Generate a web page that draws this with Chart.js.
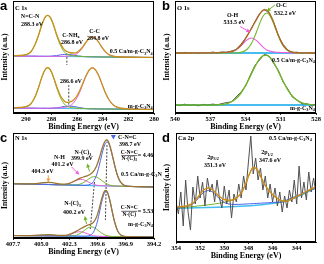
<!DOCTYPE html>
<html>
<head>
<meta charset="utf-8">
<script src="https://cdn.jsdelivr.net/npm/chart.js@4.4.0/dist/chart.umd.min.js"></script>
<style>
  html, body { margin: 0; padding: 0; background: #fff; }
  #wrap { position: relative; width: 324px; height: 264px; }
  .p { position: absolute; width: 162px; height: 132px; }
</style>
</head>
<body>
<div id="wrap">
  <div class="p" style="left:0;top:0"><canvas id="pa"></canvas></div>
  <div class="p" style="left:162px;top:0"><canvas id="pb"></canvas></div>
  <div class="p" style="left:0;top:132px"><canvas id="pc"></canvas></div>
  <div class="p" style="left:162px;top:132px"><canvas id="pd"></canvas></div>
</div>
<script>
// ---- (a) C 1s ----
const aTicks = [290, 288, 286, 284, 282, 280];
const aEnergy = [291, 290.5, 290, 289.6, 289.3, 289.0, 288.8, 288.6, 288.45, 288.3, 288.15, 288.0, 287.8, 287.6, 287.3, 287.0, 286.8, 286.6, 286.3, 286.0, 285.8, 285.6, 285.35, 285.1, 284.95, 284.8, 284.65, 284.5, 284.3, 284.0, 283.8, 283.5, 283.1, 282.6, 282.0, 281.0, 280.0];
const aUpEnv = [57.3, 57.5, 58.3, 61.3, 67.9, 78.0, 86.2, 93.2, 96.5, 97.7, 96.6, 93.4, 86.8, 78.8, 69.4, 63.4, 61.5, 60.5, 60.0, 60.7, 62.7, 65.5, 70.0, 74.0, 75.6, 76.2, 75.5, 73.9, 70.5, 64.6, 61.4, 58.2, 56.6, 56.2, 55.9, 55.6, 55.5];
const aUpNCN = [57.3, 57.5, 58.3, 61.3, 67.9, 78.0, 86.2, 93.2, 96.5, 97.6, 96.4, 93.1, 86.1, 77.8, 67.6, 61.0, 58.9, 57.8, 57.2, 56.8, 56.7, 56.6, 56.4, 56.3, 56.2, 56.2, 56.1, 56.1, 56.1, 56.0, 56.0, 56.0, 55.9, 55.9, 55.8, 55.6, 55.5];
const aUpCNH = [57.0, 56.9, 56.9, 56.8, 56.8, 56.7, 56.7, 56.7, 56.7, 56.7, 56.8, 56.9, 57.2, 57.4, 58.1, 58.6, 58.6, 58.5, 58.0, 57.2, 56.9, 56.6, 56.35, 56.2, 56.2, 56.2, 56.1, 56.1, 56.1, 56.0, 56.0, 56.0, 55.9, 55.9, 55.8, 55.6, 55.5];
const aUpCC = [57.0, 56.9, 56.9, 56.8, 56.8, 56.7, 56.7, 56.7, 56.7, 56.6, 56.6, 56.6, 56.7, 56.6, 56.7, 56.8, 56.8, 57.0, 57.6, 59.3, 61.7, 64.9, 69.6, 74.0, 75.6, 76.2, 75.5, 73.9, 70.5, 64.6, 61.4, 58.2, 56.6, 56.2, 55.9, 55.6, 55.5];
const aLoEnv = [5.3, 5.5, 6.3, 9.3, 15.7, 25.8, 33.9, 40.8, 44.2, 45.3, 44.2, 41.1, 34.5, 26.7, 17.3, 12.0, 10.6, 10.8, 12.7, 17.5, 22.2, 28.3, 35.9, 42.1, 44.4, 45.2, 44.3, 41.8, 36.9, 27.0, 20.4, 13.0, 7.2, 4.9, 4.2, 3.7, 3.5];
const aLoNCN = [5.3, 5.5, 6.3, 9.3, 15.7, 25.8, 33.9, 40.7, 44.0, 45.1, 43.9, 40.6, 33.8, 25.6, 15.4, 9.0, 6.8, 5.8, 5.2, 4.8, 4.7, 4.6, 4.4, 4.2, 4.2, 4.2, 4.1, 4.1, 4.1, 4.0, 4.0, 4.0, 3.9, 3.9, 3.8, 3.6, 3.5];
const aLoCNH = [5.0, 4.9, 4.9, 4.8, 4.8, 4.7, 4.7, 4.7, 4.7, 4.6, 4.6, 4.8, 5.0, 5.2, 5.8, 6.5, 6.8, 6.9, 6.6, 5.9, 5.4, 5.0, 4.5, 4.35, 4.2, 4.2, 4.1, 4.1, 4.1, 4.0, 4.0, 4.0, 3.9, 3.9, 3.8, 3.6, 3.5];
const aLoCC = [5.0, 4.9, 4.9, 4.8, 4.8, 4.7, 4.7, 4.8, 4.9, 4.8, 4.9, 4.9, 4.9, 4.9, 5.1, 5.5, 5.8, 6.9, 9.7, 15.4, 20.7, 27.3, 35.4, 41.9, 44.4, 45.2, 44.3, 41.8, 36.9, 27.0, 20.4, 13.0, 7.2, 4.9, 4.2, 3.7, 3.5];
const aBaseX = [291, 280];
const aUpBase = [57.0, 55.5];
const aLoBase = [5.0, 3.5];
const aDashUpX = [286.8, 286.8], aDashUpY = [59.5, 48];
const aDashLoX = [286.65, 286.65], aDashLoY = [28, 7];

// ---- (b) O 1s ----
const bTicks = [540, 537, 534, 531, 528];
const bEnergy = [540, 539, 538, 537, 536, 535.5, 535, 534.6, 534.3, 534.0, 533.75, 533.5, 533.25, 533.0, 532.75, 532.5, 532.2, 532.0, 531.75, 531.5, 531.25, 531.0, 530.7, 530.4, 530.0, 529.5, 529, 528.5, 528];
const bUpEnv = [60, 60, 60.1, 60.2, 60.5, 60.9, 62.1, 65.2, 69.0, 74.3, 79.2, 84.4, 89.7, 94.9, 99.7, 102.8, 103.0, 100.7, 95.0, 87.2, 79.2, 72.1, 66.2, 62.75, 60.75, 60.2, 60.1, 60, 60];
const bUpOC = [60, 60, 60, 60, 60, 60, 60, 60.3, 60.9, 62.5, 65.1, 69.4, 75.6, 83.1, 90.9, 97.0, 100, 98.6, 93.6, 86.3, 78.5, 71.6, 65.8, 62.5, 60.6, 60.1, 60, 60, 60];
const bUpOH = [60, 60, 60.1, 60.2, 60.5, 60.9, 62.1, 64.9, 68.1, 71.8, 74.1, 75.0, 74.1, 71.8, 68.8, 65.8, 63.0, 62.1, 61.4, 60.9, 60.7, 60.5, 60.4, 60.25, 60.15, 60.1, 60.1, 60, 60];
const bLoEnv = [8, 8, 8, 8.0, 8.5, 9.7, 12.5, 16.7, 21.4, 27.3, 33.0, 39.1, 45.1, 50.5, 54.8, 57.4, 57.8, 56.5, 53.3, 48.5, 42.8, 36.7, 29.5, 23.2, 16.7, 11.8, 9.4, 8.4, 8.1];
const bRawX = [540, 539.6, 539.2, 538.8, 538.4, 538, 537.6, 537.2, 536.8, 536.4, 536, 535.6, 535.2, 534.8, 534.4, 534, 533.6, 533.2, 532.8, 532.4, 532, 531.6, 531.2, 530.8, 530.4, 530, 529.6, 529.2, 528.8, 528.4, 528];
const bUpRaw = [60.4, 59.5, 60.6, 59.8, 60.3, 59.4, 60.5, 60.0, 60.9, 60.2, 61.0, 60.6, 61.9, 63.4, 68.5, 74.8, 82.5, 91.2, 99.5, 103.6, 100.0, 90.6, 77.0, 68.6, 63.0, 60.3, 60.8, 59.7, 60.4, 59.8, 60.3];
const bLoRaw = [8.5, 7.4, 8.8, 7.6, 8.3, 7.2, 8.6, 7.9, 8.9, 8.2, 9.4, 10.5, 11.0, 16.0, 20.7, 27.0, 37.5, 47.5, 53.0, 58.6, 57.0, 49.5, 42.6, 31.0, 24.0, 15.8, 12.8, 9.2, 9.3, 7.9, 8.6];
const bBaseX = [540, 528];
const bUpBase = [60, 60];
const bLoBase = [8, 8];

// ---- (c) N 1s ----
const cTicks = [407.7, 405.0, 402.3, 399.6, 396.9, 394.2];
const cEnergy = [407.7, 407, 406, 405.2, 404.8, 404.3, 403.8, 403.3, 402.8, 402.4, 402.0, 401.6, 401.2, 400.9, 400.6, 400.3, 400.0, 399.7, 399.45, 399.2, 399.0, 398.85, 398.7, 398.55, 398.4, 398.2, 398.0, 397.7, 397.4, 397.0, 396.5, 396, 395, 394.2];
const cUpEnv = [54.3, 54.1, 54.1, 54.8, 55.4, 55.7, 55.1, 54.2, 53.8, 54.4, 56.0, 58.2, 60.1, 61.2, 62.2, 63.8, 66.6, 72.1, 79.5, 88.5, 94.6, 97.4, 98.0, 96.0, 91.5, 83.3, 74.1, 62.7, 55.8, 52.4, 51.65, 51.4, 51.2, 51.0];
const cUpCNC = [54.3, 54.1, 53.9, 53.7, 53.6, 53.5, 53.3, 53.2, 53.1, 53.0, 52.9, 52.8, 52.7, 52.6, 52.9, 53.7, 56.4, 63.0, 72.1, 83.1, 90.9, 94.7, 96.1, 94.7, 90.7, 82.9, 73.9, 62.6, 55.8, 52.4, 51.65, 51.4, 51.2, 51.0];
const cUpNC3 = [54.3, 54.1, 53.9, 53.7, 53.6, 53.5, 53.3, 53.2, 53.1, 53.0, 53.0, 53.2, 54.1, 55.7, 57.9, 60.1, 61.3, 60.9, 59.5, 57.5, 55.9, 54.8, 54.0, 53.4, 52.8, 52.4, 52.1, 51.95, 51.8, 51.7, 51.6, 51.4, 51.2, 51.0];
const cUpNH = [54.3, 54.1, 53.9, 53.7, 53.6, 53.5, 53.3, 53.2, 53.5, 54.3, 55.9, 57.8, 58.7, 58.1, 56.6, 55.0, 53.7, 52.8, 52.5, 52.3, 52.2, 52.1, 52.1, 52.1, 52.0, 52.0, 51.9, 51.9, 51.8, 51.7, 51.6, 51.4, 51.2, 51.0];
const cLoEnv = [2.5, 2.4, 2.4, 2.8, 3.2, 3.3, 3.1, 2.6, 2.6, 3.15, 4.8, 7.0, 9.45, 11.15, 12.55, 13.7, 15.6, 21.0, 29.4, 39.5, 45.6, 47.6, 46.6, 42.6, 36.5, 26.5, 17.25, 7.6, 3.2, 1.5, 1.3, 1.2, 1.1, 1.0];
const cLoCNC = [2.5, 2.4, 2.3, 2.2, 2.2, 2.1, 2.1, 2.0, 2.0, 1.9, 1.9, 1.8, 1.8, 1.75, 1.9, 2.8, 5.8, 13.5, 24.1, 36.3, 43.6, 46.3, 45.8, 42.1, 36.2, 26.4, 17.2, 7.6, 3.2, 1.5, 1.3, 1.2, 1.1, 1.0];
const cLoNC3 = [2.5, 2.4, 2.3, 2.2, 2.2, 2.1, 2.1, 2.0, 2.0, 1.95, 2.2, 2.9, 5.0, 7.3, 9.7, 11.1, 10.7, 8.85, 6.8, 4.8, 3.5, 2.8, 2.3, 2.0, 1.8, 1.5, 1.45, 1.4, 1.4, 1.3, 1.3, 1.2, 1.1, 1.0];
const cLoNH = [2.5, 2.4, 2.3, 2.2, 2.2, 2.1, 2.1, 2.06, 2.4, 3.1, 4.55, 5.9, 6.25, 5.5, 4.35, 3.2, 2.3, 1.9, 1.7, 1.6, 1.5, 1.5, 1.5, 1.5, 1.5, 1.4, 1.4, 1.4, 1.4, 1.3, 1.3, 1.2, 1.1, 1.0];
const cBaseX = [407.7, 394.2];
const cUpBase = [54.3, 51.0];
const cLoBase = [2.5, 1.0];
const cDash1X = [399.9, 400.3], cDash1Y = [56, 9];
const cDash2X = [398.7, 398.85], cDash2Y = [93, 18];

// ---- (d) Ca 2p ----
const dTicks = [354, 352, 350, 348, 346, 344];
const dEnergy = [354, 353.5, 353, 352.5, 352.2, 351.9, 351.6, 351.3, 351.0, 350.7, 350.4, 350.0, 349.6, 349.2, 348.8, 348.5, 348.2, 347.9, 347.6, 347.3, 347.0, 346.7, 346.4, 346.0, 345.6, 345.2, 344.8, 344.4, 344.0, 343.6, 343.2, 342.8, 342.4];
const dEnv = [35, 35.5, 36.5, 40, 44.5, 49.5, 53, 54, 52.5, 49, 45.5, 42.5, 41.8, 42.5, 46, 51, 59, 68.5, 74.5, 73, 66, 58.5, 53, 47.5, 43.5, 41, 41, 43, 45.5, 48, 50.5, 53, 55];
const d2p1 = [34.5, 35.0, 36.0, 39.2, 43.0, 47.5, 50.5, 51.5, 50.3, 47.0, 43.2, 39.5, 38.0, 37.6, 37.6, 37.8, 38.0, 38.2, 38.4, 38.6, 38.8, 39.0, 39.2, 39.5, 39.8, 40.1, 42.1, 44.1, 46.1, 48.1, 50.1, 52.1, 54.1];
const d2p2 = [34.0, 34.5, 35.0, 35.5, 36.0, 36.4, 36.8, 37.2, 37.7, 38.2, 38.8, 39.8, 41.0, 42.3, 45.8, 50.8, 58.8, 68.3, 74.3, 72.8, 65.8, 58.3, 52.8, 47.3, 43.3, 40.9, 40.9, 42.9, 45.4, 47.9, 50.4, 52.9, 54.9];
const dBaseX = [354, 345.2, 342.4];
const dBase = [33.5, 40, 54];
const dRawX = [354.0, 353.8, 353.6, 353.4, 353.2, 353.0, 352.8, 352.6, 352.4, 352.2, 352.0, 351.8, 351.6, 351.4, 351.2, 351.0, 350.8, 350.6, 350.4, 350.2, 350.0, 349.8, 349.6, 349.4, 349.2, 349.0, 348.8, 348.6, 348.4, 348.2, 348.0, 347.8, 347.6, 347.4, 347.2, 347.0, 346.8, 346.6, 346.4, 346.2, 346.0, 345.8, 345.6, 345.4, 345.2, 345.0, 344.8, 344.6, 344.4, 344.2, 344.0, 343.8, 343.6, 343.4, 343.2, 343.0, 342.8, 342.6, 342.4];
const dRaw = [40, 28, 50, 16, 62, 30, 12, 55, 38, 66, 44, 60, 36, 64, 50, 58, 40, 62, 44, 34, 56, 38, 52, 24, 48, 40, 58, 44, 66, 52, 80, 106, 68, 84, 62, 74, 52, 66, 44, 58, 40, 54, 36, 50, 30, 46, 34, 52, 40, 62, 38, 76, 44, 60, 42, 70, 50, 64, 48];

// ---- drawing ----
const SERIF = '"Liberation Serif", "Times New Roman", serif';
const GOLD = '#c8921c', GREEN = '#72b52a', PINK = '#ee5ee0', BLUE = '#4b64ea', SKY = '#46bdf0';

function pts(xs, ys) {
  return xs.map((x, i) => ({ x: x, y: ys[i] }));
}

function curve(xs, ys, color, width, extra) {
  return Object.assign({
    data: pts(xs, ys), borderColor: color, borderWidth: width,
    pointRadius: 0, fill: false, cubicInterpolationMode: 'monotone'
  }, extra || {});
}

function dashed(xs, ys) {
  return curve(xs, ys, '#111', 0.8, { borderDash: [2, 1.5] });
}

// split "m-g-C_3N_4" or "2p_{3/2}" into normal / subscript runs
function runs(s) {
  const out = [];
  let buf = '', i = 0;
  while (i < s.length) {
    if (s[i] === '_') {
      if (buf) { out.push([buf, 0]); buf = ''; }
      if (s[i + 1] === '{') {
        const j = s.indexOf('}', i);
        out.push([s.slice(i + 2, j), 1]);
        i = j + 1;
      } else {
        out.push([s[i + 1], 1]);
        i += 2;
      }
    } else {
      buf += s[i++];
    }
  }
  if (buf) out.push([buf, 0]);
  return out;
}

function rich(ctx, s, x, y, size, align, color) {
  const parts = runs(s);
  const f0 = 'bold ' + size + 'px ' + SERIF;
  const f1 = 'bold ' + (size * 0.7) + 'px ' + SERIF;
  let w = 0;
  parts.forEach(p => { ctx.font = p[1] ? f1 : f0; w += ctx.measureText(p[0]).width; });
  let cx = align === 'left' ? x : align === 'right' ? x - w : x - w / 2;
  ctx.fillStyle = color || '#000';
  ctx.textAlign = 'left';
  ctx.textBaseline = 'middle';
  parts.forEach(p => {
    ctx.font = p[1] ? f1 : f0;
    ctx.fillText(p[0], cx, y + (p[1] ? size * 0.3 : 0));
    cx += ctx.measureText(p[0]).width;
  });
  return w;
}

function notesPlugin(cfg) {
  return {
    id: 'notes',
    afterDatasetsDraw(chart) {
      const ctx = chart.ctx, a = chart.chartArea;
      const sx = chart.scales.x, sy = chart.scales.y;
      const X = v => sx.getPixelForValue(v), Y = v => sy.getPixelForValue(v);
      ctx.save();
      // frame
      ctx.strokeStyle = '#000';
      ctx.lineWidth = 1;
      ctx.strokeRect(a.left + 0.5, a.top + 0.5, a.right - a.left - 1, a.bottom - a.top - 1);
      // panel letter + heading
      ctx.fillStyle = '#000';
      ctx.font = 'bold 13px "Liberation Sans", Arial, sans-serif';
      ctx.textAlign = 'left';
      ctx.textBaseline = 'alphabetic';
      ctx.fillText(cfg.letter, 0, 10);
      rich(ctx, cfg.heading, a.left + 2, cfg.headY, 6.5, 'left');
      // arrows
      (cfg.arrows || []).forEach(ar => {
        const x1 = X(ar.x1), y1 = Y(ar.y1), x2 = X(ar.x2), y2 = Y(ar.y2);
        const ang = Math.atan2(y2 - y1, x2 - x1);
        ctx.strokeStyle = ar.c; ctx.fillStyle = ar.c; ctx.lineWidth = 1;
        ctx.beginPath(); ctx.moveTo(x1, y1); ctx.lineTo(x2, y2); ctx.stroke();
        ctx.beginPath();
        ctx.moveTo(x2 + 1.5 * Math.cos(ang), y2 + 1.5 * Math.sin(ang));
        ctx.lineTo(x2 - 2.5 * Math.cos(ang) + 2 * Math.sin(ang), y2 - 2.5 * Math.sin(ang) - 2 * Math.cos(ang));
        ctx.lineTo(x2 - 2.5 * Math.cos(ang) - 2 * Math.sin(ang), y2 - 2.5 * Math.sin(ang) + 2 * Math.cos(ang));
        ctx.closePath(); ctx.fill();
      });
      (cfg.marks || []).forEach(m => {
        const x = X(m.x), y = Y(m.y);
        ctx.fillStyle = m.c;
        ctx.beginPath(); ctx.moveTo(x - 2.5, y - 2); ctx.lineTo(x + 2.5, y - 2); ctx.lineTo(x, y + 2.5);
        ctx.closePath(); ctx.fill();
      });
      // labels
      (cfg.texts || []).forEach(t => rich(ctx, t.t, X(t.x), Y(t.y), 6, t.align || 'center', t.c));
      // ratio fractions
      (cfg.fracs || []).forEach(f => {
        const cx = X(f.x), cy = Y(f.y);
        rich(ctx, f.num, cx, cy - 3, 5.5, 'center');
        rich(ctx, f.den, cx, cy + 3.2, 5.5, 'center');
        ctx.strokeStyle = '#000'; ctx.lineWidth = 0.6;
        ctx.beginPath(); ctx.moveTo(cx - 8, cy + 0.3); ctx.lineTo(cx + 8, cy + 0.3); ctx.stroke();
      });
      ctx.restore();
    }
  };
}

function panel(id, cfg) {
  const tickFont = { family: SERIF, size: 6.5, weight: 'bold' };
  return new Chart(document.getElementById(id), {
    type: 'line',
    data: { datasets: cfg.datasets },
    options: {
      animation: false,
      responsive: true,
      maintainAspectRatio: false,
      layout: { padding: { left: 0, right: 8, top: 1, bottom: cfg.padBottom } },
      plugins: { legend: { display: false }, tooltip: { enabled: false } },
      scales: {
        x: {
          type: 'linear', reverse: true, min: cfg.xMin, max: cfg.xMax,
          afterBuildTicks: s => { s.ticks = cfg.ticks.map(v => ({ value: v })); },
          afterFit: s => { s.height = 19; },
          ticks: { font: tickFont, color: '#000', padding: 0, maxRotation: 0, autoSkip: false,
                   callback: cfg.tickFmt || (v => String(v)) },
          grid: { drawOnChartArea: false, color: '#000', tickLength: 2, lineWidth: 0.8 },
          border: { color: '#000', width: 1 },
          title: { display: true, text: 'Binding Energy (eV)', color: '#000', padding: 0,
                   font: { family: SERIF, size: 8, weight: 'bold' } }
        },
        y: {
          min: 0, max: cfg.yMax,
          ticks: { display: false }, grid: { display: false }, border: { display: false },
          afterFit: s => { s.width = cfg.left; },
          title: { display: true, text: 'Intensity (a.u.)', color: '#000', padding: { top: 1, bottom: 0 },
                   font: { family: SERIF, size: 7.5, weight: 'bold' } }
        }
      }
    },
    plugins: [notesPlugin(cfg)]
  });
}

panel('pa', {
  xMin: 280, xMax: 291, yMax: 112, left: 13, padBottom: 0, ticks: aTicks,
  letter: 'a', heading: 'C 1s', headY: 8.5,
  datasets: [
    curve(aEnergy, aUpEnv, GOLD, 1.3),
    curve(aEnergy, aUpNCN, GREEN, 1),
    curve(aEnergy, aUpCC, PINK, 1),
    curve(aEnergy, aUpCNH, BLUE, 1),
    curve(aBaseX, aUpBase, SKY, 1.2),
    curve(aEnergy, aLoEnv, GOLD, 1.3),
    curve(aEnergy, aLoNCN, GREEN, 1),
    curve(aEnergy, aLoCC, PINK, 1),
    curve(aEnergy, aLoCNH, BLUE, 1),
    curve(aBaseX, aLoBase, SKY, 1.2),
    dashed(aDashUpX, aDashUpY),
    dashed(aDashLoX, aDashLoY)
  ],
  texts: [
    { t: 'N=C-N', x: 289.67, y: 96.3 }, { t: '288.3 eV', x: 289.52, y: 88.7 },
    { t: 'C-NH_x', x: 286.48, y: 78 }, { t: '286.8 eV', x: 286.4, y: 70.3 },
    { t: 'C-C', x: 284.64, y: 81.3 }, { t: '284.8 eV', x: 284.37, y: 74.7 },
    { t: '0.5 Ca/m-g-C_3N_4', x: 280.1, y: 61.3, align: 'right' },
    { t: 'm-g-C_3N_4', x: 280.1, y: 7, align: 'right' },
    { t: '286.6 eV', x: 286.48, y: 31.3 }
  ]
});

panel('pb', {
  xMin: 528, xMax: 540, yMax: 112, left: 13, padBottom: 0, ticks: bTicks,
  letter: 'b', heading: 'O 1s', headY: 8.5,
  datasets: [
    curve(bEnergy, bUpEnv, '#b06a22', 1.3),
    curve(bEnergy, bUpOC, GREEN, 1.1),
    curve(bEnergy, bUpOH, PINK, 1.1),
    curve(bRawX, bUpRaw, '#222', 0.8, { cubicInterpolationMode: 'default', tension: 0 }),
    curve(bBaseX, bUpBase, SKY, 1.8),
    curve(bEnergy, bLoEnv, GREEN, 1.4),
    curve(bRawX, bLoRaw, '#222', 0.8, { cubicInterpolationMode: 'default', tension: 0 }),
    curve(bBaseX, bLoBase, SKY, 1.8)
  ],
  texts: [
    { t: 'O-H', x: 535.1, y: 97.3 }, { t: '533.5 eV', x: 534.94, y: 90.3 },
    { t: 'O-C', x: 530.94, y: 107.3 }, { t: '532.2 eV', x: 530.64, y: 99.7 },
    { t: '0.5 Ca/m-g-C_3N_4', x: 528.1, y: 53, align: 'right' },
    { t: 'm-g-C_3N_4', x: 528.1, y: 4.7, align: 'right' }
  ],
  arrows: [
    { x1: 534.47, y1: 86.5, x2: 533.7, y2: 81.5, c: PINK },
    { x1: 531.5, y1: 108, x2: 532.1, y2: 102.5, c: GREEN }
  ]
});

panel('pc', {
  xMin: 394.2, xMax: 407.7, yMax: 105, left: 13, padBottom: 7, ticks: cTicks,
  tickFmt: v => v.toFixed(1),
  letter: 'c', heading: 'N 1s', headY: 6.5,
  datasets: [
    curve(cEnergy, cUpEnv, '#9c7630', 1.3),
    curve(cEnergy, cUpCNC, BLUE, 1),
    curve(cEnergy, cUpNC3, GREEN, 1),
    curve(cEnergy, cUpNH, PINK, 1),
    curve(cBaseX, cUpBase, SKY, 1.2),
    curve(cEnergy, cLoEnv, '#9c7630', 1.3),
    curve(cEnergy, cLoCNC, BLUE, 1),
    curve(cEnergy, cLoNC3, GREEN, 1),
    curve(cEnergy, cLoNH, PINK, 1),
    curve(cBaseX, cLoBase, SKY, 1.2),
    dashed(cDash1X, cDash1Y),
    dashed(cDash2X, cDash2Y)
  ],
  texts: [
    { t: 'C-N=C', x: 397.64, y: 101, align: 'left' }, { t: '398.7 eV', x: 397.55, y: 93.3, align: 'left' },
    { t: 'N-(C)_3', x: 401.0, y: 85.3 }, { t: '399.9 eV', x: 401.1, y: 79.3 },
    { t: 'N-H', x: 403.25, y: 81 }, { t: '401.2 eV', x: 402.96, y: 73.3 },
    { t: '404.3 eV', x: 404.87, y: 66.7 },
    { t: '0.5 Ca/m-g-C_3N_4', x: 397.36, y: 63.7, align: 'left' },
    { t: 'N-(C)_3', x: 402.0, y: 34.3 }, { t: '400.2 eV', x: 401.86, y: 26 },
    { t: '= 4.46', x: 395.75, y: 82.2, align: 'left' },
    { t: '= 5.53', x: 395.75, y: 26.5, align: 'left' },
    { t: 'm-g-C_3N_4', x: 394.3, y: 14, align: 'right' }
  ],
  fracs: [
    { num: 'C-N=C', den: 'N-(C)_3', x: 396.57, y: 82.7 },
    { num: 'C-N=C', den: 'N-(C)', x: 396.57, y: 27 }
  ],
  arrows: [
    { x1: 400.37, y1: 66.5, x2: 400.56, y2: 73, c: GREEN },
    { x1: 402.08, y1: 71, x2: 401.45, y2: 64.3, c: PINK },
    { x1: 404.32, y1: 62.7, x2: 404.32, y2: 57, c: '#f0a048' },
    { x1: 400.66, y1: 14, x2: 400.8, y2: 20.5, c: GREEN }
  ],
  marks: [{ x: 398.09, y: 101, c: BLUE }]
});

panel('pd', {
  xMin: 342.4, xMax: 354, yMax: 109, left: 14, padBottom: 3, ticks: dTicks,
  letter: 'd', heading: 'Ca 2p', headY: 6.5,
  datasets: [
    curve(dEnergy, dEnv, '#d08e18', 1.4),
    curve(dRawX, dRaw, '#505050', 1, { cubicInterpolationMode: 'default', tension: 0 }),
    curve(dEnergy, d2p1, BLUE, 1),
    curve(dEnergy, d2p2, GREEN, 1),
    curve(dBaseX, dBase, SKY, 1.5)
  ],
  texts: [
    { t: '2p_{3/2}', x: 350.93, y: 85 }, { t: '351.3 eV', x: 350.77, y: 76.7 },
    { t: '2p_{1/2}', x: 346.46, y: 89.3 }, { t: '347.6 eV', x: 346.21, y: 81.7 },
    { t: '0.5 Ca/m-g-C_3N_4', x: 346.3, y: 104, align: 'left' }
  ]
});
</script>
</body>
</html>
